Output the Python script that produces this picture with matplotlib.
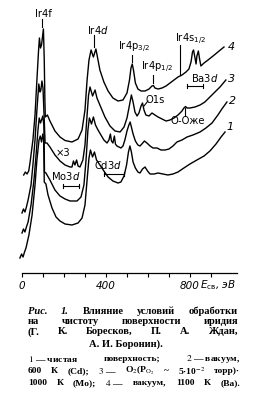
import matplotlib
matplotlib.use("Agg")
import matplotlib.pyplot as plt

# ---------------- data (binding energy, eV ; intensity, arb. units) ----------------
E4 = [8, 16, 24, 32, 38, 52, 62, 71, 79, 83, 88, 93, 102, 106, 109, 111, 121, 133, 157, 181,
      205, 238, 267, 286, 300, 310, 319, 329, 340, 352, 362, 371, 390, 410, 433, 457, 481, 500,
      512, 519, 525, 531, 540, 552, 567, 586, 605, 619, 626, 633, 648, 667, 686, 705, 724, 743,
      762, 781, 795, 805, 812, 817, 824, 829, 833, 840, 845, 852, 867, 886, 910, 933, 962]
I4 = [98, 101, 99, 102, 110, 133, 158, 193, 223, 235, 225, 228, 244, 213, 173, 156, 158, 152, 142, 136,
      132.5, 131, 134, 143, 163, 193, 213, 223, 216, 224, 213, 203, 191, 182, 175, 172, 173, 180,
      193, 205, 209, 203, 190, 184, 182, 182, 184, 187, 187.5, 185, 184, 185, 187, 190, 193, 196,
      198, 201, 204, 211, 221, 223, 215, 209, 217, 222, 215, 207, 210, 213, 217, 221, 226]

E3 = [0, 7, 14, 21, 29, 43, 52, 62, 71, 80, 86, 90, 95, 100, 106, 110, 119, 133, 157, 181,
      205, 229, 238, 245, 252, 260, 267, 276, 290, 300, 310, 317, 324, 336, 348, 357, 371, 395,
      419, 443, 467, 486, 500, 512, 521, 529, 538, 548, 557, 567, 574, 581, 590, 605, 619, 633,
      648, 667, 686, 705, 724, 743, 762, 771, 779, 786, 800, 824, 848, 871, 895, 919, 943, 971]
I3 = [60, 64, 61, 66, 73, 88, 108, 133, 163, 189, 181, 183, 192, 185, 153, 130, 130, 126, 118, 112,
      108, 106, 106, 112, 108, 113, 107, 106, 113, 128, 158, 178, 186, 177, 183, 175, 168, 156,
      147, 142, 141, 146, 155, 168, 178, 171, 161, 157, 160, 167, 170, 163, 158, 157, 160, 158,
      156, 154, 152, 153, 155, 158, 162, 165, 166.5, 165, 165, 166, 168, 171, 176, 181, 186, 193]

E2 = [0, 7, 14, 21, 29, 43, 57, 67, 76, 82, 88, 93, 99, 104, 106, 107, 114, 133, 157, 181,
      205, 229, 262, 281, 295, 305, 314, 321, 331, 340, 350, 362, 376, 390, 405, 414, 421, 426,
      433, 440, 445, 452, 462, 471, 481, 490, 500, 509, 515, 521, 529, 540, 552, 562, 571, 583,
      595, 610, 624, 643, 662, 681, 700, 719, 738, 762, 786, 814, 848, 876, 905, 933, 952, 976]
I2 = [40, 44, 41, 46, 51, 68, 93, 118, 143, 155, 150, 153, 157, 148, 123, 101, 100, 93, 83, 77,
      74, 72, 72, 76, 88, 113, 143, 155, 149, 156, 148, 143, 138, 133, 130, 133, 139, 132,
      130, 137, 129, 127, 126, 125, 127, 133, 142, 148, 151, 146, 139, 132, 128, 127, 129, 132,
      130, 127, 125, 125, 123, 123, 124, 127, 131, 133, 136, 138, 141, 145, 150, 158, 164, 171]

E1 = [-10, -2, 5, 12, 19, 33, 48, 62, 71, 81, 87, 93, 99, 103, 105, 106, 114, 124, 143, 162,
      181, 205, 238, 267, 286, 300, 310, 319, 326, 336, 345, 355, 371, 390, 410, 433, 457, 471,
      486, 498, 507, 514, 521, 529, 540, 552, 562, 574, 586, 598, 610, 629, 648, 671, 695, 719,
      743, 771, 800, 833, 867, 895, 924, 948, 967]
I1 = [15, 19, 16, 21, 25, 38, 58, 88, 113, 133, 137, 131, 139, 133, 108, 91, 89, 78, 65, 56,
      52, 49, 48, 50, 55, 68, 93, 115, 123, 116, 121, 113, 108, 102, 96, 92, 90, 91,
      97, 108, 121, 127, 121, 111, 105, 101, 100, 104, 106, 102, 99, 99, 100, 99, 98, 99,
      101, 105, 109, 113, 117, 122, 129, 136, 141]

curve_labels = ["4", "3", "2", "1"]
tick_values = [0, 100, 200, 300, 400, 500, 600, 700, 800, 900]
tick_labels = ["0", "", "", "", "400", "", "", "", "800", ""]

# ---------------- figure ----------------
W, H = 254, 407
fig = plt.figure(figsize=(W / 100, H / 100), dpi=100)
fig.patch.set_facecolor("white")
ax = fig.add_axes([22 / W, (H - 273) / H, 215 / W, 273 / H])
ax.set_xlim(0, 1024)
ax.set_ylim(0, 273)
ax.patch.set_alpha(0)

for E, I in [(E4, I4), (E3, I3), (E2, I2), (E1, I1)]:
    ax.plot(E, I, color="k", lw=1.0, clip_on=False, solid_joinstyle="round")

for s in ["left", "right", "top"]:
    ax.spines[s].set_visible(False)
ax.spines["bottom"].set_linewidth(0.9)
ax.set_yticks([])
ax.set_xticks(tick_values)
ax.set_xticklabels(tick_labels, fontstyle="italic", fontsize=7.5, family="DejaVu Sans")
ax.tick_params(axis="x", direction="out", length=3, width=0.8, pad=2.5)


def P(px, py):
    """pixel position of the reference -> data coordinates (for annotations)"""
    return ((px - 22) / 0.21, 273 - py)


afont = dict(fontsize=7.2, family="DejaVu Sans", color="k", math_fontfamily="dejavusans")


def mark(p0, p1):
    a, b = P(*p0), P(*p1)
    ax.plot([a[0], b[0]], [a[1], b[1]], color="k", lw=0.8, clip_on=False)


def txt(px, py, s, ha="center", **kw):
    d = dict(afont)
    d.update(kw)
    ax.text(*P(px, py), s, ha=ha, va="center", clip_on=False, **d)


def bracket(x0, x1, y):
    mark((x0, y), (x1, y))
    mark((x0, y - 2), (x0, y + 2))
    mark((x1, y - 2), (x1, y + 2))


txt(43, 14, "Ir4f")
mark((41.7, 19), (41.7, 27))
txt(98, 30, "Ir4$\\it{d}$")
mark((94, 35), (94, 47))
txt(134, 47, "Ir4p$_{3/2}$")
mark((132.3, 55), (132.3, 62))
txt(141, 67, "Ir4p$_{1/2}$", ha="left")
mark((152.7, 75), (152.7, 83))
txt(175, 39, "Ir4s$_{1/2}$", ha="left")
mark((180, 45), (180, 75))
txt(205, 78, "Ba3$\\it{d}$")
bracket(187, 203, 86)
txt(155, 100, "O1s")
mark((144, 106), (148, 101))
txt(188, 121, "O-Оже")
mark((185, 108), (185, 116))
txt(63, 153, "×3")
txt(66, 176, "Mo3$\\it{d}$")
bracket(63, 79, 186)
txt(108, 165, "Cd3$\\it{d}$")
bracket(104, 124, 174)

for lab, (px, py) in zip(curve_labels, [(231, 47), (232, 79), (233, 101), (230, 127)]):
    txt(px, py, lab, fontstyle="italic", fontsize=8)

fig.text(200 / W, 1 - 285.5 / H, "$E_{\\mathrm{св}}$, эВ", ha="left", va="center",
         fontsize=7.5, family="DejaVu Sans", fontstyle="italic", math_fontfamily="dejavusans")

# ---------------- caption ----------------
renderer = fig.canvas.get_renderer()
SERIF = ["Liberation Serif", "DejaVu Serif"]


def justify(words, y, x0, x1, fs, weight="bold"):
    ts = []
    for w in words:
        if isinstance(w, tuple):
            s, st = w
        else:
            s, st = w, "normal"
        ts.append(fig.text(0, 1 - y / H, s, fontsize=fs, family=SERIF,
                           fontstyle=st, fontweight=weight, va="center", ha="left",
                           math_fontfamily="stix"))
    widths = [t.get_window_extent(renderer).width for t in ts]
    gap = (x1 - x0 - sum(widths)) / max(len(ts) - 1, 1)
    x = x0
    for t, w in zip(ts, widths):
        t.set_x(x / W)
        x += w + gap


justify([("Рис.", "italic"), ("1.", "italic"), "Влияние", "условий", "обработки"], 311.5, 28, 238, 7.6)
justify(["на", "чистоту", "поверхности", "иридия"], 322, 28, 238, 7.6)
justify(["(Г.", "К.", "Боресков,", "П.", "А.", "Ждан,"], 332, 28, 238, 7.6)
fig.text(126 / W, 1 - 344 / H, "А. И. Боронин).", fontsize=7.6, family=SERIF,
         fontweight="bold", ha="center", va="center")
justify(["$\\mathit{1}$ — чистая", "поверхность;", "$\\mathit{2}$ — вакуум,"], 359, 28, 240, 6.8)
justify(["600", "К", "(Cd);", "$\\mathit{3}$ —", "O$_2$(P$_{\\mathrm{O_2}}$", "~",
         "5·10$^{-2}$", "торр)·"], 371, 28, 240, 6.8)
justify(["1000", "К", "(Mo);", "$\\mathit{4}$ —", "вакуум,", "1100", "К", "(Ba)."], 383, 28, 240, 6.8)

fig.savefig("out.png", dpi=100, facecolor="white")
